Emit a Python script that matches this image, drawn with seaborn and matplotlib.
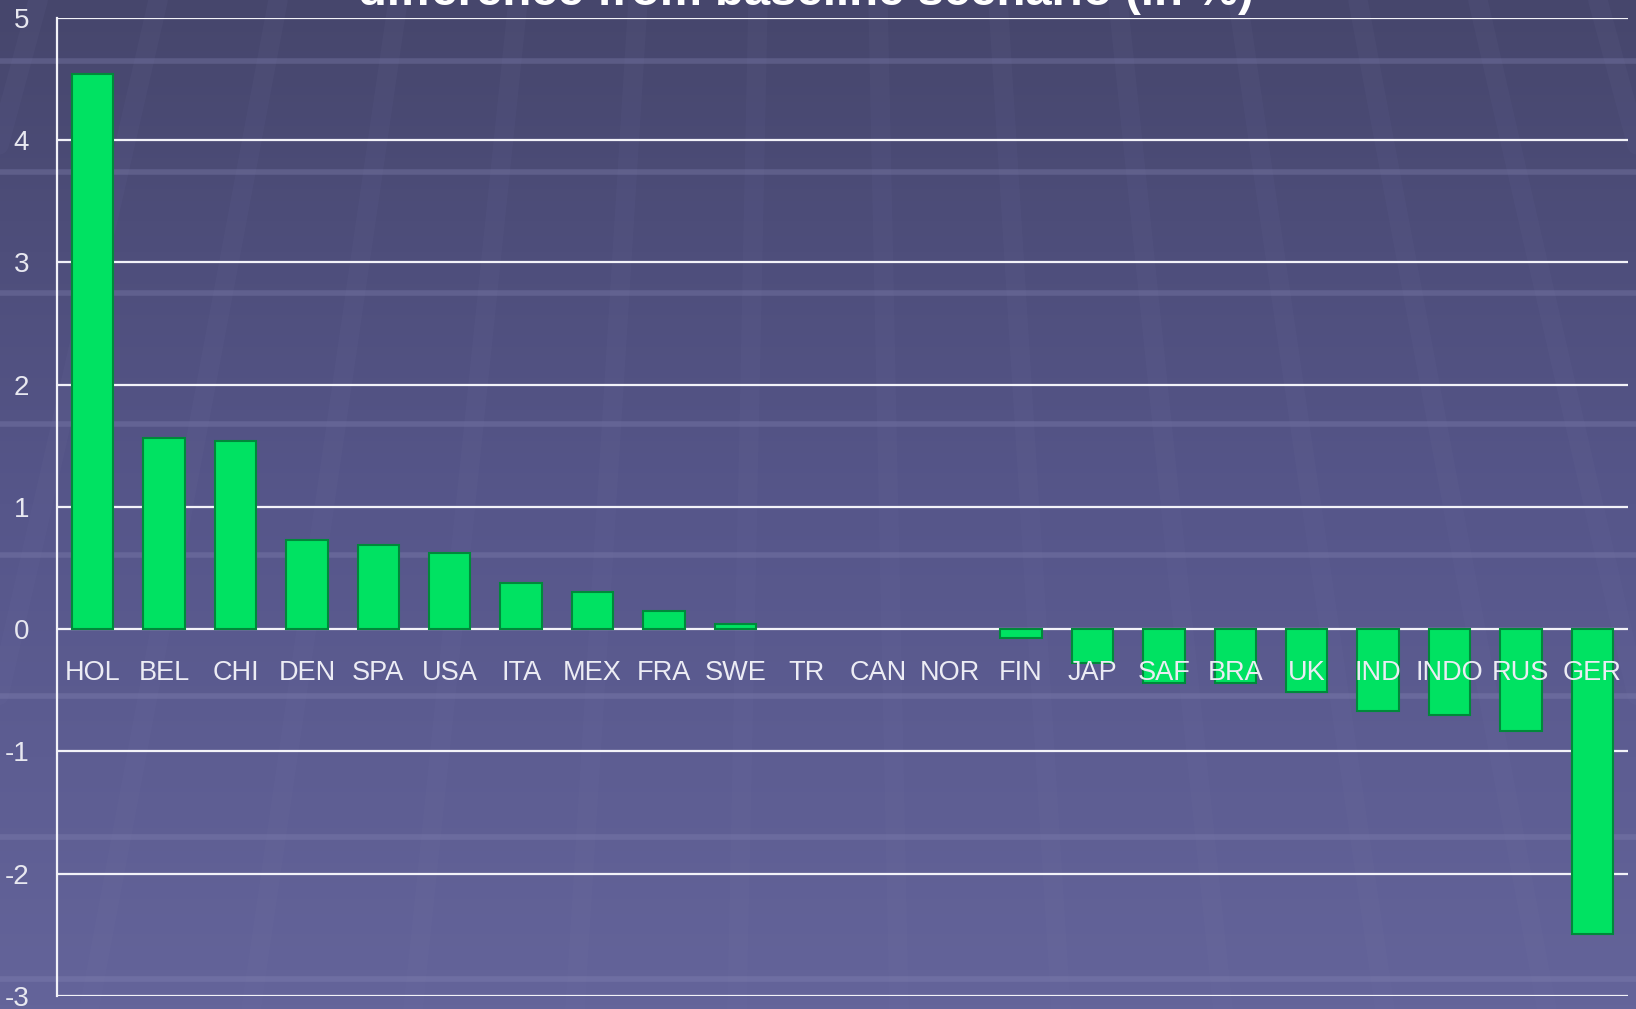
import numpy as np
import pandas as pd
import matplotlib
matplotlib.use("Agg")
import matplotlib.pyplot as plt
import seaborn as sns
from matplotlib.colors import LinearSegmentedColormap

countries = ["HOL", "BEL", "CHI", "DEN", "SPA", "USA", "ITA", "MEX", "FRA", "SWE", "TR",
             "CAN", "NOR", "FIN", "JAP", "SAF", "BRA", "UK", "IND", "INDO", "RUS", "GER"]
values = [4.54, 1.56, 1.54, 0.73, 0.69, 0.62, 0.38, 0.30, 0.15, 0.04, 0.0,
          0.0, 0.0, -0.07, -0.28, -0.44, -0.44, -0.51, -0.67, -0.70, -0.83, -2.49]
yticks = [-3, -2, -1, 0, 1, 2, 3, 4, 5]
title = "difference from baseline scenario (in %)"

df = pd.DataFrame({"country": countries, "value": values})

sns.set_theme(style="white")
plt.rcParams["font.family"] = ["Liberation Sans", "DejaVu Sans"]

W, H = 1636, 1009
fig = plt.figure(figsize=(W / 100, H / 100), dpi=100)

# background gradient with faint decorative pattern
bg = fig.add_axes([0, 0, 1, 1], zorder=-10)
grad = np.linspace(0, 1, 256).reshape(-1, 1)
cmap = LinearSegmentedColormap.from_list("bg", ["#46466c", "#56568a", "#64649a"])
bg.imshow(grad, aspect="auto", cmap=cmap, extent=[0, 1, 0, 1], origin="upper")
for yy in [0.94, 0.83, 0.71, 0.58, 0.45, 0.31, 0.17, 0.03]:
    bg.axhline(yy, color="#8a8ab8", alpha=0.3, lw=4)
for xt in np.linspace(-0.05, 1.05, 16):
    xb = 0.5 + (xt - 0.5) * 1.35
    bg.plot([xt, xb], [1, 0], color="#7c7cac", alpha=0.08, lw=14)
bg.set_xlim(0, 1)
bg.set_ylim(0, 1)
bg.axis("off")

left = 57 / W
right = 1628 / W
top = 1 - 17.7 / H
bottom = 1 - 996 / H
ax = fig.add_axes([left, bottom, right - left, top - bottom])
ax.patch.set_alpha(0)

sns.barplot(data=df, x="country", y="value", color="#00e262", width=0.58,
            edgecolor="#00893a", linewidth=1.5, saturation=1, ax=ax, zorder=3)
for p in ax.patches:
    if abs(p.get_height()) < 1e-9:
        p.set_linewidth(0)

ax.set_ylim(-3, 5)
ax.set_xlim(-0.5, len(countries) - 0.5)
ax.set_yticks(yticks)
ax.set_yticklabels([str(t) for t in yticks], color="#e8e8f0", fontsize=20)
ax.tick_params(axis="y", length=0, pad=20)
for t in yticks:
    ax.axhline(t, color="#f2f2f8", lw=1.6, zorder=1)

ax.spines["bottom"].set_position(("data", 0))
ax.spines["bottom"].set_visible(False)
ax.spines["top"].set_visible(False)
ax.spines["right"].set_visible(False)
ax.spines["left"].set_color("#f2f2f8")
ax.spines["left"].set_linewidth(1.6)
ax.tick_params(axis="x", length=0, pad=22, labelsize=19.5, labelcolor="#ececf4")
ax.xaxis.set_zorder(6)
ax.set_xlabel("")
ax.set_ylabel("")

fig.text(806 / W, 1 - 5 / H, title, ha="center", va="baseline", fontsize=34,
         fontweight="bold", color="white")

fig.savefig("out.png", dpi=100)
